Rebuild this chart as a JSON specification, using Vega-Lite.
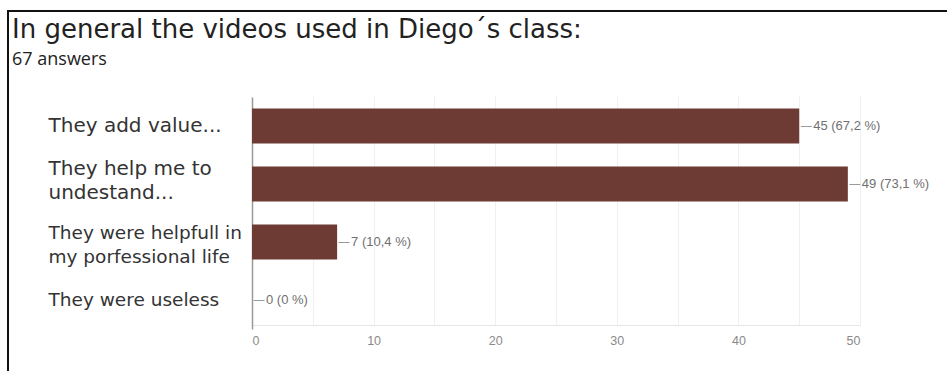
{
  "$schema": "https://vega.github.io/schema/vega-lite/v6.json",
  "width": 945,
  "height": 366,
  "autosize": {"type": "none"},
  "padding": {"left": 8, "top": 11, "right": -6, "bottom": -6},
  "background": "white",
  "title": {
    "text": "In general the videos used in Diego´s class:",
    "subtitle": "67 answers",
    "anchor": "start",
    "frame": "group",
    "offset": -58,
    "dx": 4,
    "font": "DejaVu Sans",
    "fontSize": 26,
    "fontWeight": "normal",
    "color": "#222222",
    "subtitleFont": "Open Sans",
    "subtitleFontSize": 18,
    "subtitleColor": "#222222",
    "subtitlePadding": 8
  },
  "config": {"view": {"stroke": "#111111", "strokeWidth": 2}},
  "data": {
    "values": [
      {"answer": "They add value...", "count": 45, "label": "45 (67,2 %)"},
      {"answer": "They help me to|undestand...", "count": 49, "label": "49 (73,1 %)"},
      {"answer": "They were helpfull in|my porfessional life", "count": 7, "label": "7 (10,4 %)"},
      {"answer": "They were useless", "count": 0, "label": "0 (0 %)"}
    ]
  },
  "encoding": {
    "y": {
      "field": "answer",
      "type": "nominal",
      "sort": null,
      "scale": {"range": [86, 318], "paddingInner": 0.4, "paddingOuter": 0.2},
      "axis": {
        "title": null,
        "offset": -244,
        "ticks": false,
        "grid": false,
        "domainColor": "#9a9a9a",
        "domainWidth": 1.5,
        "labelAlign": "left",
        "labelBaseline": "middle",
        "labelPadding": 204,
        "labelOffset": {"condition": [{"test": "indexof(datum.value, 'help me') >= 0", "value": -15}, {"test": "indexof(datum.value, 'helpfull') >= 0", "value": -9}], "value": 0},
        "labelFont": "DejaVu Sans",
        "labelFontSize": {"condition": {"test": "indexof(datum.value, 'They were') === 0", "value": 18.5}, "value": 20},
        "labelColor": "#333333",
        "labelExpr": "split(datum.label, '|')",
        "labelLineHeight": 24,
        "labelLimit": 0
      }
    },
    "x": {
      "field": "count",
      "type": "quantitative",
      "scale": {"domain": [0, 50], "range": [244, 852], "nice": false, "zero": true},
      "axis": {
        "title": null,
        "orient": "bottom",
        "offset": -52,
        "grid": false,
        "values": [0, 5, 10, 15, 20, 25, 30, 35, 40, 45, 50],
        "labelExpr": "datum.value % 10 === 0 ? datum.label : ''",
        "tickSize": -229,
        "tickColor": "#f0f0f0",
        "domainColor": "#e6e6e6",
        "labelFont": "Liberation Sans",
        "labelFontSize": 12.5,
        "labelColor": "#8a8a8a",
        "labelPadding": 238
      }
    }
  },
  "layer": [
    {"mark": {"type": "bar", "color": "#6d3a34"}},
    {"mark": {"type": "text", "text": "—", "align": "left", "baseline": "middle", "dx": 1, "font": "DejaVu Sans", "fontSize": 12, "color": "#9a9a9a"}},
    {"mark": {"type": "text", "align": "left", "baseline": "middle", "dx": 14, "font": "Liberation Sans", "fontSize": 13, "color": "#707070"}, "encoding": {"text": {"field": "label"}}}
  ]
}
